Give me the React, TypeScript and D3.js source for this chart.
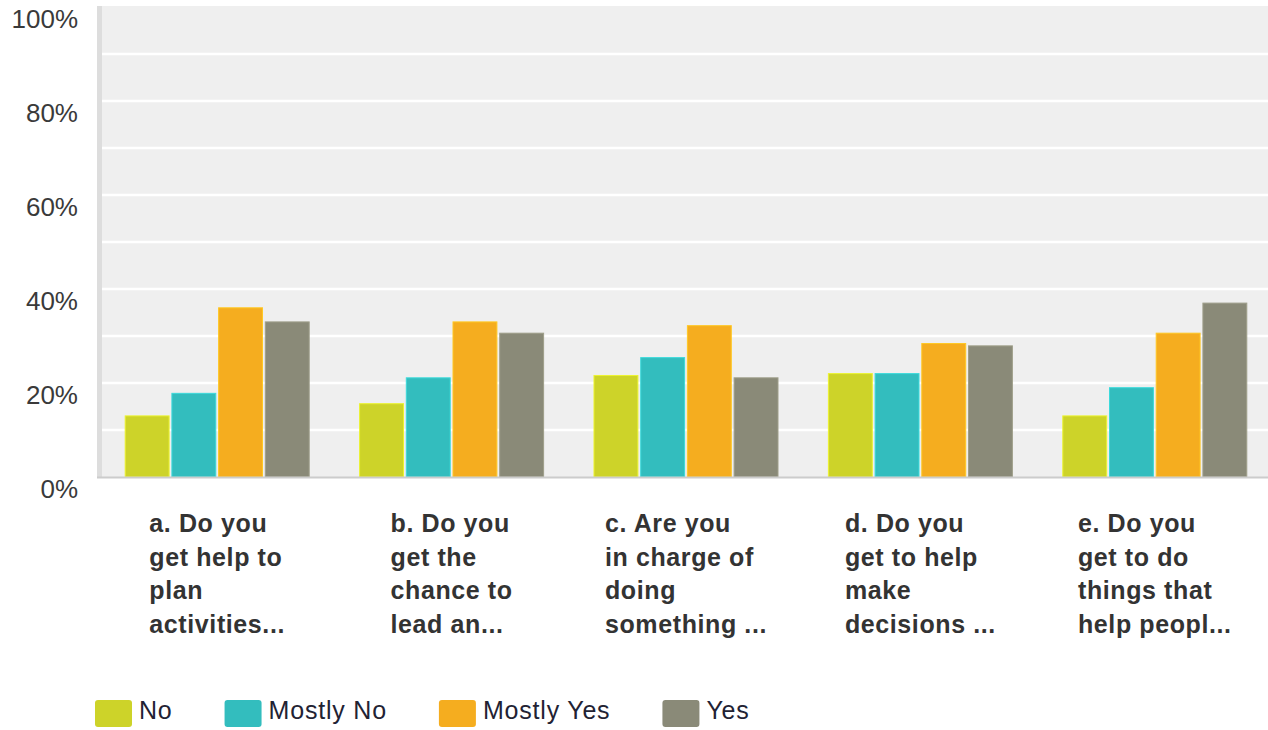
import React, { useEffect, useRef } from "react";
import * as d3 from "d3";

const categories = ["a", "b", "c", "d", "e"];
const categoryLabels: string[][] = [
  ["a. Do you", "get help to", "plan", "activities..."],
  ["b. Do you", "get the", "chance to", "lead an..."],
  ["c. Are you", "in charge of", "doing", "something ..."],
  ["d. Do you", "get to help", "make", "decisions ..."],
  ["e. Do you", "get to do", "things that", "help peopl..."],
];
const seriesNames = ["No", "Mostly No", "Mostly Yes", "Yes"];
const seriesColors = ["#CDD329", "#33BDBE", "#F5AD1F", "#8A8A78"];
const noValues = [13.0, 15.6, 21.6, 22.0, 13.0];
const mostlyNoValues = [17.8, 21.1, 25.4, 22.0, 19.0];
const mostlyYesValues = [36.0, 33.0, 32.2, 28.4, 30.6];
const yesValues = [33.0, 30.6, 21.1, 27.9, 37.0];
const seriesValues = [noValues, mostlyNoValues, mostlyYesValues, yesValues];
const yTickLabels = [0, 20, 40, 60, 80, 100];
const gridValues = [10, 20, 30, 40, 50, 60, 70, 80, 90];

const W = 1268;
const H = 730;
const FONT = "'Liberation Sans', Arial, sans-serif";

export default function App() {
  const ref = useRef<SVGSVGElement | null>(null);

  useEffect(() => {
    const svg = d3.select(ref.current);
    svg.selectAll("*").remove();

    const left = 97;
    const top = 6;
    const y = d3.scaleLinear().domain([0, 100]).range([477, 7]);
    const x0 = d3
      .scaleBand<string>()
      .domain(categories)
      .range([100, 1272])
      .paddingInner(0.215)
      .paddingOuter(0.1075);
    const x1 = d3
      .scaleBand<string>()
      .domain(seriesNames)
      .range([0, x0.bandwidth()])
      .paddingInner(0.06);

    svg
      .append("rect")
      .attr("x", left)
      .attr("y", top)
      .attr("width", W - left)
      .attr("height", y(0) - top)
      .attr("fill", "#EFEFEF");

    svg
      .append("g")
      .selectAll("line")
      .data(gridValues)
      .join("line")
      .attr("x1", left)
      .attr("x2", W)
      .attr("y1", (d) => y(d))
      .attr("y2", (d) => y(d))
      .attr("stroke", "#FFFFFF")
      .attr("stroke-width", 2.5);

    svg
      .append("rect")
      .attr("x", left)
      .attr("y", top)
      .attr("width", 5)
      .attr("height", y(0) - top)
      .attr("fill", "#DDDDDD");

    const groups = svg
      .append("g")
      .selectAll("g")
      .data(categories)
      .join("g")
      .attr("transform", (c) => `translate(${x0(c)},0)`);
    groups
      .selectAll("rect")
      .data((c) =>
        seriesNames.map((s, j) => ({ s, j, v: seriesValues[j][categories.indexOf(c)] }))
      )
      .join("rect")
      .attr("x", (d) => x1(d.s)!)
      .attr("y", (d) => y(d.v))
      .attr("width", x1.bandwidth())
      .attr("height", (d) => y(0) - y(d.v))
      .attr("fill", (d) => seriesColors[d.j])
      .attr("stroke", (d) => d3.color(seriesColors[d.j])!.brighter(0.4).toString())
      .attr("stroke-width", 1);

    svg
      .append("line")
      .attr("x1", left)
      .attr("x2", W)
      .attr("y1", y(0) + 0.5)
      .attr("y2", y(0) + 0.5)
      .attr("stroke", "#CCCCCC")
      .attr("stroke-width", 2);

    svg
      .append("g")
      .selectAll("text")
      .data(yTickLabels)
      .join("text")
      .attr("x", 78)
      .attr("y", (d) => y(d) + 21)
      .attr("text-anchor", "end")
      .attr("font-family", FONT)
      .attr("font-size", 26)
      .attr("fill", "#3A3A3A")
      .text((d) => `${d}%`);

    categories.forEach((c, i) => {
      const g = svg.append("g");
      const texts = g
        .selectAll("text")
        .data(categoryLabels[i])
        .join("text")
        .attr("y", (_, k) => 532 + k * 33.5)
        .attr("font-family", FONT)
        .attr("font-size", 25)
        .attr("font-weight", "bold")
        .attr("letter-spacing", 0.6)
        .attr("fill", "#333333")
        .text((d) => d);
      let maxW = 0;
      texts.each(function () {
        maxW = Math.max(maxW, (this as SVGTextElement).getComputedTextLength());
      });
      const cx = x0(c)! + x0.bandwidth() / 2;
      texts.attr("x", cx - maxW / 2);
    });

    const legend = svg.append("g");
    let lx = 95;
    seriesNames.forEach((s, j) => {
      legend
        .append("rect")
        .attr("x", lx)
        .attr("y", 700)
        .attr("width", 37)
        .attr("height", 27)
        .attr("rx", 3)
        .attr("fill", seriesColors[j]);
      const t = legend
        .append("text")
        .attr("x", lx + 44)
        .attr("y", 719)
        .attr("font-family", FONT)
        .attr("font-size", 25)
        .attr("letter-spacing", 0.8)
        .attr("fill", "#222233")
        .text(s);
      const tw = (t.node() as SVGTextElement).getComputedTextLength();
      lx = lx + 44 + tw + 52;
    });
  }, []);

  return (
    <svg
      ref={ref}
      width={W}
      height={H}
      style={{ position: "absolute", left: 0, top: 0, background: "#fff" }}
    />
  );
}
